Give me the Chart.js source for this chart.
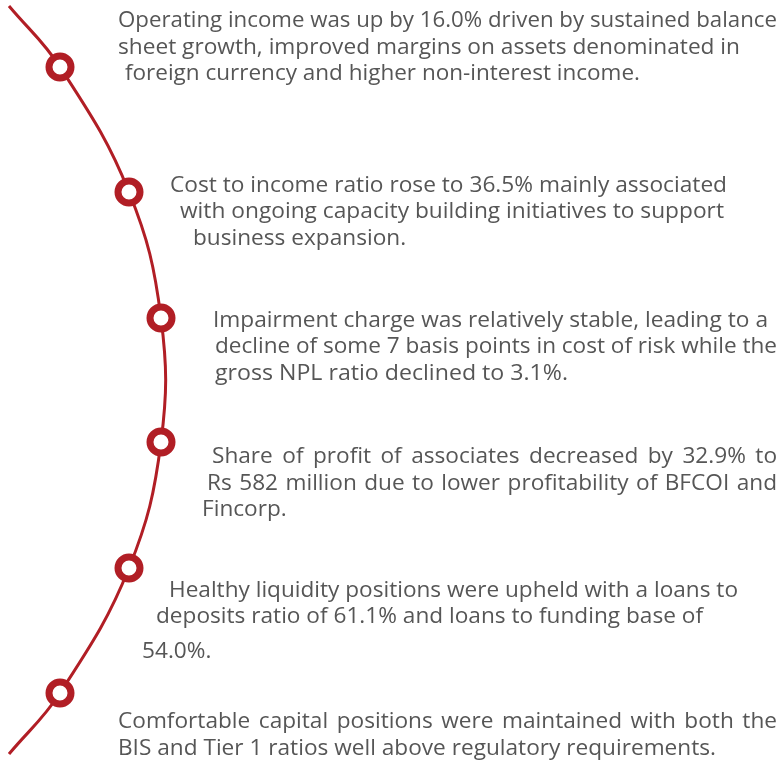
<!DOCTYPE html>
<html>
<head>
<meta charset="utf-8">
<script src="https://cdn.jsdelivr.net/npm/chart.js@4.4.1/dist/chart.umd.min.js"></script>
<style>
html,body{margin:0;padding:0;background:#fff;width:782px;height:764px;overflow:hidden}
#wrap{position:relative;width:782px;height:764px}
#c{position:absolute;left:0;top:0}
.ln{position:absolute;white-space:pre;font-family:"Open Sans",sans-serif;font-size:22.5px;line-height:30px;color:#565656;transform-origin:0 0;display:block}
</style>
</head>
<body>
<div id="wrap"><canvas id="c" width="782" height="764"></canvas><div id="notes"></div></div>
<script>
// ---- data ----
const pathX = [9, 60, 129, 161, 161, 129, 60, 9];
const pathY = [6, 67, 192, 318, 442, 568, 693, 754];
const markerFlags = [0, 1, 1, 1, 1, 1, 1, 0];

const note1 = ["Operating income was up by 16.0% driven by sustained balance",
               "sheet growth, improved margins on assets denominated in",
               "foreign currency and higher non-interest income."];
const note2 = ["Cost to income ratio rose to 36.5% mainly associated",
               "with ongoing capacity building initiatives to support",
               "business expansion."];
const note3 = ["Impairment charge was relatively stable, leading to a",
               "decline of some 7 basis points in cost of risk while the",
               "gross NPL ratio declined to 3.1%."];
const note4 = ["Share of profit of associates decreased by 32.9% to",
               "Rs 582 million due to lower profitability of BFCOI and",
               "Fincorp."];
const note5 = ["Healthy liquidity positions were upheld with a loans to",
               "deposits ratio of 61.1% and loans to funding base of",
               "54.0%."];
const note6 = ["Comfortable capital positions were maintained with both the",
               "BIS and Tier 1 ratios well above regulatory requirements."];
const notes = [note1, note2, note3, note4, note5, note6];

// ---- layout (positions only) ----
const FONT_PX = 22.5, LINE_PX = 30;
const lineLeft  = [[118,118,125],[170,180,193],[213,215,215],[212,207,202],[169,156,142],[118,118]];
const lineRight = [[777,740,640],[727,724,406],[768,777,568],[777,777,287],[738,703,210],[777,716]];
const lineBase  = [[28,55,81],[193,219,246],[328,354,381],[464,491,517],[598,624,659],[729,756]];
const justified = [[0,0,0],[0,0,0],[0,0,0],[1,1,0],[0,0,0],[1,0]];

const RED = '#b11e25';

new Chart(document.getElementById('c'), {
  type: 'line',
  data: {
    datasets: [{
      data: pathX.map((x, i) => ({x: x, y: pathY[i]})),
      borderColor: RED,
      borderWidth: 3,
      tension: 0.4,
      fill: false,
      pointRadius: markerFlags.map(f => f ? 11 : 0),
      pointHoverRadius: markerFlags.map(f => f ? 11 : 0),
      pointBorderWidth: 7,
      pointHoverBorderWidth: 7,
      pointBackgroundColor: '#ffffff',
      pointBorderColor: RED,
      clip: false
    }]
  },
  options: {
    responsive: false,
    animation: false,
    events: [],
    layout: {padding: 0},
    plugins: {legend: {display: false}, tooltip: {enabled: false}},
    scales: {
      x: {type: 'linear', min: 0, max: 782, display: false},
      y: {type: 'linear', min: 0, max: 764, reverse: true, display: false}
    }
  }
});

function layoutNotes() {
  const host = document.getElementById('notes');
  host.innerHTML = '';
  const els = [];
  notes.forEach((lines, b) => {
    lines.forEach((txt, l) => {
      const d = document.createElement('div');
      d.className = 'ln';
      d.textContent = txt;
      host.appendChild(d);
      els.push({d, b, l, txt});
    });
  });
  const ratios = [];
  els.forEach(e => {
    e.w = e.d.getBoundingClientRect().width;
    e.r = (lineRight[e.b][e.l] - lineLeft[e.b][e.l]) / e.w;
    if (!justified[e.b][e.l] && e.txt.length > 20) ratios.push(e.r);
  });
  ratios.sort((a, b) => a - b);
  const s = ratios[Math.floor(ratios.length / 2)];
  const asc = 1.069 * FONT_PX, half = (LINE_PX - 1.362 * FONT_PX) / 2;
  els.forEach(e => {
    const left = lineLeft[e.b][e.l];
    const base = lineBase[e.b][e.l];
    e.d.style.left = left + 'px';
    e.d.style.top = (base - asc - half) + 'px';
    if (justified[e.b][e.l]) {
      e.d.style.transform = 'scaleX(' + s + ')';
      const spaces = (e.txt.match(/ /g) || []).length;
      const target = (lineRight[e.b][e.l] - left) / s;
      e.d.style.wordSpacing = ((target - e.w) / spaces) + 'px';
    } else {
      const k = e.txt.length > 20 ? e.r : s;
      e.d.style.transform = 'scaleX(' + k + ')';
    }
  });
}
if (document.fonts && document.fonts.load) {
  document.fonts.load(FONT_PX + 'px "Open Sans"').then(layoutNotes, layoutNotes);
} else {
  layoutNotes();
}
</script>
</body>
</html>
